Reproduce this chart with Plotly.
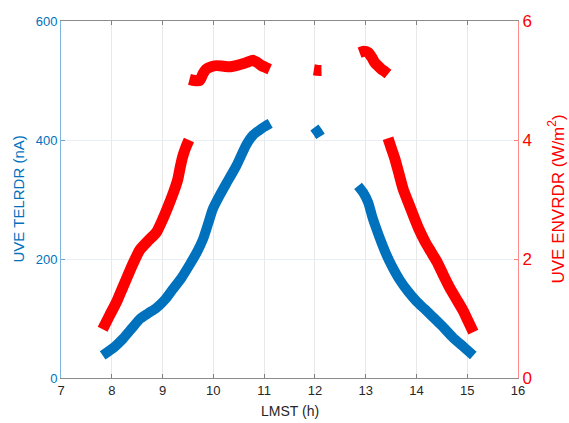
import plotly.graph_objects as go

# Blue series: UVE TELRDR (nA), left axis — segments separated by None
blue_x = [7.82, 8.05, 8.22, 8.40, 8.55, 8.72, 8.88, 9.05, 9.20, 9.37, 9.53, 9.68, 9.80, 9.90, 9.99,
          10.12, 10.25, 10.45, 10.65, 10.78, 10.90, 11.00, 11.12,
          None,
          11.99, 12.05, 12.11,
          None,
          12.85, 12.95, 13.05, 13.13, 13.21, 13.31, 13.41, 13.53, 13.67, 13.83, 14.0, 14.16,
          14.33, 14.52, 14.72, 14.92, 15.12]
blue_y = [38, 52, 66, 84, 99, 109, 118, 132, 149, 168, 190, 212, 234, 260, 284,
          306, 326, 356, 392, 408, 416, 422, 428,
          None,
          421, 414, 406,
          None,
          323, 312, 295, 271, 251, 228, 207, 186, 165, 146, 129, 116,
          102, 86, 68, 53, 38]

# Red series: UVE ENVRDR (W/m2), right axis
red_x = [7.82, 7.95, 8.09, 8.22, 8.35, 8.45, 8.55, 8.72, 8.88, 9.01, 9.14, 9.22, 9.30, 9.35, 9.40, 9.46, 9.52,
         None,
         9.53, 9.63, 9.73, 9.80, 9.86, 9.95, 10.06, 10.2, 10.32, 10.45, 10.58, 10.68, 10.78, 10.87, 10.95, 11.03, 11.11,
         None,
         11.98, 12.06, 12.13,
         None,
         12.88, 12.96, 13.05, 13.12, 13.18, 13.25, 13.31, 13.38, 13.44,
         None,
         13.44, 13.51, 13.58, 13.66, 13.74, 13.84, 13.94, 14.05, 14.17, 14.28, 14.40, 14.53,
         14.66, 14.79, 14.92, 15.02, 15.12]
red_y = [0.82, 1.04, 1.27, 1.53, 1.79, 1.98, 2.15, 2.31, 2.45, 2.68, 2.95, 3.13, 3.34, 3.55, 3.73, 3.88, 4.0,
         None,
         5.02, 5.0, 5.0, 5.12, 5.19, 5.23, 5.25, 5.24, 5.23, 5.25, 5.28, 5.31, 5.34, 5.30, 5.25, 5.22, 5.19,
         None,
         5.18, 5.17, 5.17,
         None,
         5.47, 5.49, 5.47, 5.39, 5.30, 5.24, 5.19, 5.15, 5.11,
         None,
         4.03, 3.85, 3.67, 3.42, 3.17, 2.95, 2.73, 2.50, 2.29, 2.13, 1.96, 1.73,
         1.51, 1.32, 1.13, 0.95, 0.77]

x_ticks = [7, 8, 9, 10, 11, 12, 13, 14, 15, 16]
left_ticks = [0, 200, 400, 600]
right_ticks = [0, 2, 4, 6]

BLUE = "#0072BD"
RED = "#FF0000"
FONT = "Liberation Sans, Arial, sans-serif"

fig = go.Figure()
fig.add_trace(go.Scatter(x=blue_x, y=blue_y, mode="lines", yaxis="y",
                         line=dict(color=BLUE, width=10, shape="spline", smoothing=0.6),
                         connectgaps=False, showlegend=False, hoverinfo="skip"))
fig.add_trace(go.Scatter(x=red_x, y=red_y, mode="lines", yaxis="y2",
                         line=dict(color=RED, width=11, shape="spline", smoothing=0.6),
                         connectgaps=False, showlegend=False, hoverinfo="skip"))

fig.update_layout(
    width=569, height=423,
    margin=dict(l=61, r=51, t=17, b=45, pad=0),
    paper_bgcolor="white", plot_bgcolor="white",
    font=dict(family=FONT, color="#262626"),
    xaxis=dict(range=[7, 16], tickvals=x_ticks, ticks="inside", ticklen=4,
               tickcolor="#808080", showline=True, linecolor="#8c8c8c",
               linewidth=1, mirror="ticks", showgrid=True, gridcolor="#e8e8e8",
               zeroline=False, tickfont=dict(size=13, color="#262626")),
    yaxis=dict(range=[0, 600], tickvals=left_ticks, ticks="inside", ticklen=4,
               tickcolor="#6aa8d8", showline=True, linecolor="#7db4e0",
               linewidth=1, showgrid=True, gridcolor="#e8eef4", zeroline=False,
               tickfont=dict(size=13, color=BLUE)),
    yaxis2=dict(range=[0, 6], tickvals=right_ticks, ticks="inside", ticklen=4,
                tickcolor="#ff8080", showline=True, linecolor="#ff8a8a",
                linewidth=1, overlaying="y", side="right", showgrid=False,
                zeroline=False, tickfont=dict(size=17, color=RED)),
    annotations=[
        dict(text="LMST (h)", xref="paper", yref="paper", x=0.5, y=0,
             yshift=-33, xanchor="center", yanchor="middle", showarrow=False,
             font=dict(size=14, color="#262626", family=FONT)),
        dict(text="UVE TELRDR (nA)", xref="paper", yref="paper", x=0, y=0.5,
             xshift=-43, xanchor="center", yanchor="middle", showarrow=False,
             textangle=-90, font=dict(size=15, color=BLUE, family=FONT)),
        dict(text="UVE ENVRDR (W/m<sup>2</sup>)", xref="paper", yref="paper",
             x=1, y=0.5, xshift=38, xanchor="center", yanchor="middle",
             showarrow=False, textangle=-90,
             font=dict(size=17, color=RED, family=FONT)),
    ],
)

fig.write_html("out.html")
